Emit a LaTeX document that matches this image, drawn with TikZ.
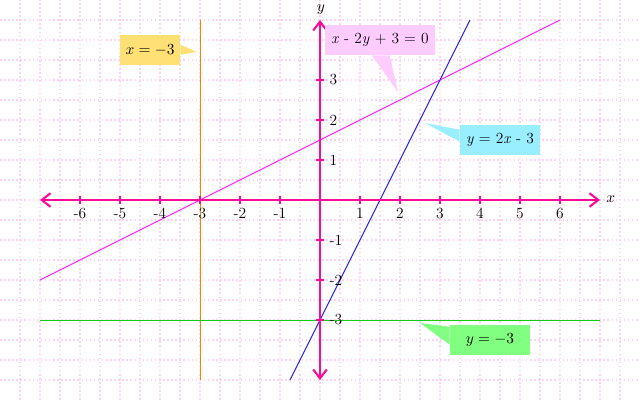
\documentclass[tikz,border=0pt]{standalone}
\usetikzlibrary{arrows.meta,calc}
\definecolor{axiscol}{HTML}{FF0A96}
\definecolor{gridcol}{HTML}{FFD2F2}
\definecolor{magline}{HTML}{FF22FF}
\definecolor{blueline}{HTML}{2020EE}
\definecolor{orline}{HTML}{FF8000}
\definecolor{grline}{HTML}{11CC11}
\definecolor{yelbox}{HTML}{FFE074}
\definecolor{pinkbox}{HTML}{FFCCFF}
\definecolor{cyanbox}{HTML}{99EEFF}
\definecolor{greenbox}{HTML}{80FF80}
\tikzset{
  gridline/.style={gridcol, line width=0.9pt, dash pattern=on 1.1pt off 1.8pt},
  axisline/.style={axiscol, line width=1.5pt, {Straight Barb[length=2.2mm,width=3.4mm]}-{Straight Barb[length=2.2mm,width=3.4mm]}},
  tickmark/.style={axiscol, line width=0.9pt},
  graphline/.style={line width=0.7pt},
  ticklabel/.style={inner sep=1pt, font=\fontsize{11}{13}\selectfont},
  callout/.style={inner sep=0pt, minimum height=0.75cm, font=\fontsize{11}{13}\selectfont},
}
\begin{document}
\begin{tikzpicture}[x=1cm,y=1cm]
\useasboundingbox (-8,-5) rectangle (8,5);
% grid
\foreach \gx in {-7.5,-7,...,7.6} \draw[gridline] (\gx,-5) -- (\gx,5);
\foreach \gy in {-4.5,-4,...,4.6} \draw[gridline] (-8,\gy) -- (8,\gy);
% graph lines
\coordinate (oa) at (-3,-4.5); \coordinate (ob) at (-3,4.5);
\coordinate (ga) at (-7,-3); \coordinate (gb) at (7,-3);
\coordinate (ma) at (-7,-2); \coordinate (mb) at (6,4.5);
\coordinate (ba) at (-0.75,-4.5); \coordinate (bb) at (3.75,4.5);
\draw[graphline, orline] (oa) -- (ob);
\draw[graphline, grline] (ga) -- (gb);
\draw[graphline, magline] (ma) -- (mb);
\draw[graphline, blueline] (ba) -- (bb);
% axes
\coordinate (xl) at (-7,0); \coordinate (xr) at (7,0);
\coordinate (yb) at (0,-4.5); \coordinate (yt) at (0,4.5);
\draw[axisline] (xl) -- (xr);
\draw[axisline] (yb) -- (yt);
\node[inner sep=0pt, font=\fontsize{11}{13}\selectfont] (xlab) at (7.27,0.02) {$x$};
\node[inner sep=0pt, font=\fontsize{11}{13}\selectfont] (ylab) at (0.02,4.75) {$y$};
\foreach \t in {-6,...,-1,1,2,...,6}{
  \draw[tickmark] (\t,-0.1) -- (\t,0.1);
  \node[ticklabel] (tx\t) at (\t,-0.34) {\t};
}
\foreach \t in {-3,-2,-1,1,2,3}{
  \draw[tickmark] (-0.1,\t) -- (0.1,\t);
  \node[ticklabel, anchor=west] (ty\t) at (0.2,\t) {\t};
}
% callouts
\node[callout, fill=yelbox, minimum width=1.5cm] (cx) at (-4.25,3.75) {$x=-3$};
\coordinate (cxtip) at (-3.075,3.7);
\fill[yelbox] ([yshift=-0.25cm]cx.north east) -- (cxtip) -- ([yshift=-0.5cm]cx.north east) -- cycle;

\node[callout, fill=pinkbox, minimum width=2.75cm] (cm) at (1.5,4.0) {\textit{x} - 2\textit{y} + 3 = 0};
\coordinate (cmtip) at (1.95,2.7);
\fill[pinkbox] ([xshift=1.175cm]cm.south west) -- (cmtip) -- ([xshift=1.625cm]cm.south west) -- cycle;

\node[callout, fill=cyanbox, minimum width=2cm] (cb) at (4.5,1.5) {\textit{y} = 2\textit{x} - 3};
\coordinate (cbtip) at (2.625,1.925);
\fill[cyanbox] ([yshift=-0.125cm]cb.north west) -- (cbtip) -- ([yshift=-0.425cm]cb.north west) -- cycle;

\node[callout, fill=greenbox, minimum width=2cm] (cg) at (4.25,-3.5) {$y=-3$};
\coordinate (cgtip) at (2.5,-3.075);
\fill[greenbox] ([yshift=-0.05cm]cg.north west) -- (cgtip) -- ([yshift=-0.5cm]cg.north west) -- cycle;
\end{tikzpicture}
\end{document}
